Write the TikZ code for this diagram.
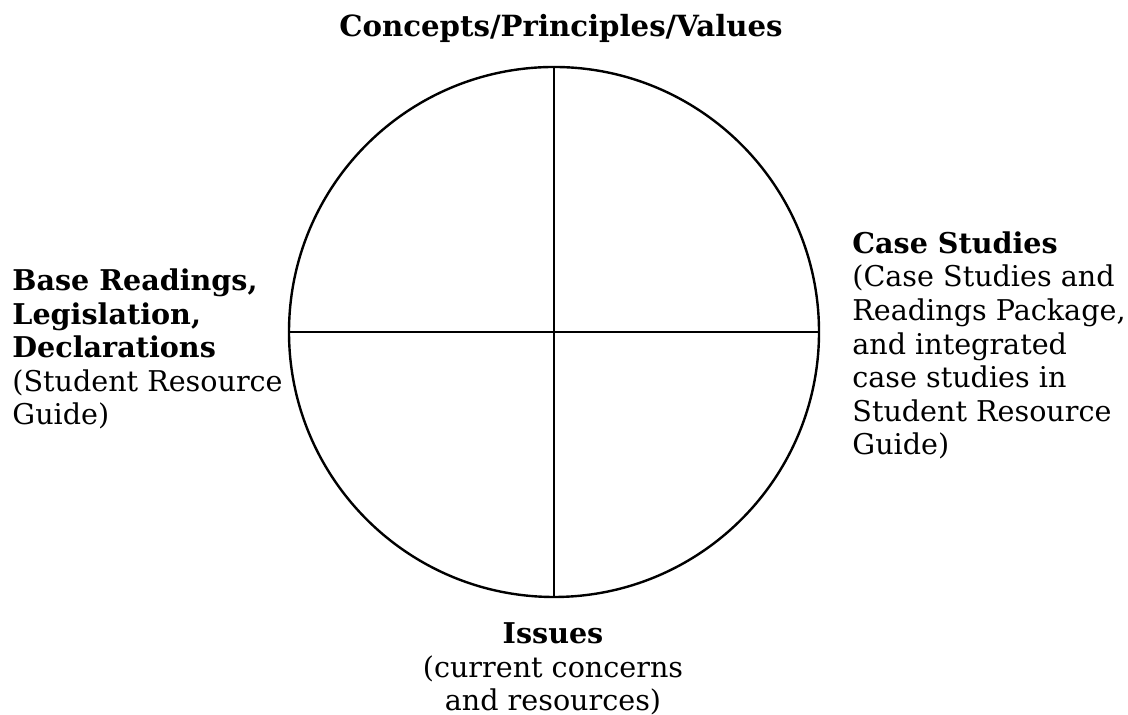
\documentclass[tikz,border=0pt]{standalone}
\usepackage{fontspec}
\setmainfont{DejaVu Serif}
\usetikzlibrary{positioning}

\tikzset{
  rim/.style={draw, circle, line width=1.2pt, minimum size=265pt, inner sep=0pt},
  spoke/.style={line width=1.1pt},
  blurb/.style={inner sep=0pt, align=left, font=\fontsize{14.3}{16.8}\selectfont},
}

\begin{document}
\begin{tikzpicture}[x=0.5pt,y=0.5pt]
\useasboundingbox (0,0) rectangle (1128,715);

% the wheel and its quarters
\node[rim] (wheel) at (554,383) {};
\draw[spoke] (wheel.north) -- (wheel.south);
\draw[spoke] (wheel.west) -- (wheel.east);

% texts round the wheel
\node[blurb, anchor=base, font=\bfseries\fontsize{14.6}{16.8}\selectfont] (values) at (561,678) {Concepts/Principles/Values};
\node[blurb, anchor=base west] (readings) at (12,290) {\textbf{Base Readings,}\\\textbf{Legislation,}\\\textbf{Declarations}\\(Student Resource\\Guide)};
\node[blurb, anchor=base west] (cases) at (852,260) {\textbf{Case Studies}\\(Case Studies and\\Readings Package,\\and integrated\\case studies in\\Student Resource\\Guide)};
\node[blurb, anchor=base, align=center] (issues) at (553,4) {\textbf{Issues}\\(current concerns\\and resources)};

\end{tikzpicture}
\end{document}
